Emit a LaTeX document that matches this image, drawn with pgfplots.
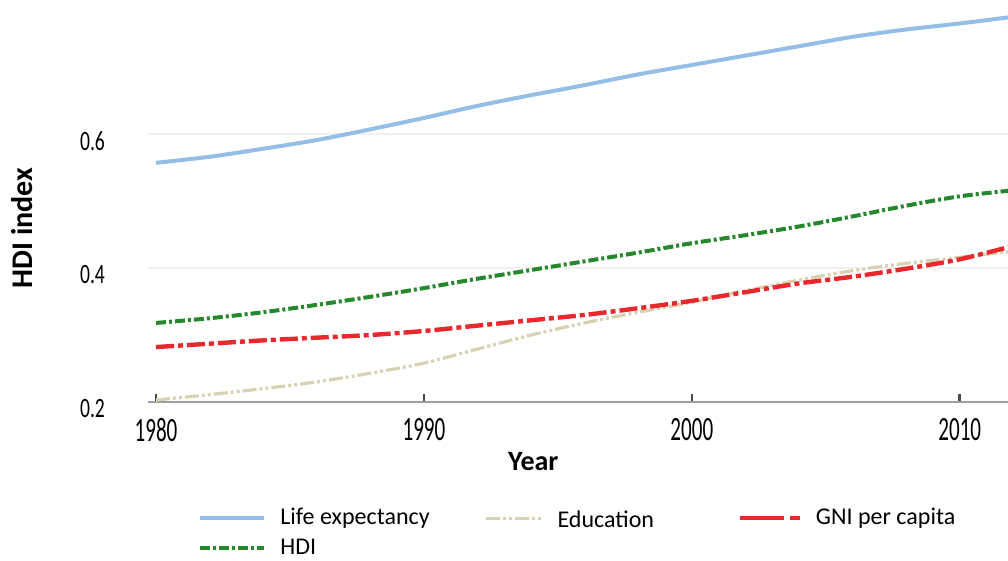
\documentclass[border=0pt]{standalone}
\usepackage{pgfplots}
\pgfplotsset{compat=1.18}
\usepackage{fontspec}
\setmainfont{Carlito}

\definecolor{lifeblue}{RGB}{148,190,230}
\definecolor{hdigreen}{RGB}{38,135,45}
\definecolor{gnired}{RGB}{232,40,44}
\definecolor{edubeige}{RGB}{216,210,178}

\pgfplotsset{
  longline/.style={legend image code/.code={\draw[##1] (0pt,0pt) -- (32pt,0pt);}},
  shortline/.style={legend image code/.code={\draw[##1] (0pt,0pt) -- (28pt,0pt);}},
  gniline/.style={legend image code/.code={\draw[##1, solid] (0pt,0pt) -- (22pt,0pt); \draw[##1, solid] (25pt,0pt) -- (30pt,0pt);}},
}

\begin{document}
\begin{tikzpicture}
\begin{axis}[
    scale only axis,
    width=430pt, height=201pt,
    xmin=1979.7, xmax=2011.8,
    ymin=0.2, ymax=0.8,
    xtick={1980,1990,2000,2010},
    ytick={0.2,0.4,0.6},
    axis lines=left,
    axis line style={-},
    y axis line style={draw=none},
    x axis line style={draw=gray!75, line width=1.3pt},
    ymajorgrids,
    grid style={gray!12, line width=0.8pt},
    ytick style={draw=none},
    xtick style={draw=black!70, line width=1.3pt},
    tick align=inside,
    major tick length=4pt,
    /pgf/number format/1000 sep={},
    /pgf/number format/assume math mode=true,
    xticklabel={\scalebox{0.62}[1]{\pgfmathprintnumber{\tick}}},
    yticklabel={\scalebox{0.7}[1]{\pgfmathprintnumber[fixed,precision=1]{\tick}}},
    xticklabel style={font=\fontsize{17}{19}\selectfont, yshift=-4.8pt},
    yticklabel style={font=\fontsize{14}{16}\selectfont, xshift=-18pt, yshift=-3.5pt},
    xlabel={\textbf{Year}},
    ylabel={\textbf{HDI index}},
    xlabel style={font=\fontsize{14}{16}\selectfont, at={(axis description cs:0.448,-0.149)}, anchor=center},
    ylabel style={font=\fontsize{15}{17}\selectfont, at={(axis description cs:-0.1465,0.433)}, anchor=center},
    legend columns=3,
    legend cell align=left,
    legend style={draw=none, fill=none, font=\fontsize{12}{14}\selectfont,
        at={(0,0)}, anchor=north west, xshift=22pt, yshift=-49pt, row sep=1.5pt,
        /tikz/every odd column/.append style={column sep=5pt}},
]

\addplot[lifeblue, line width=2pt, smooth, longline]
  table {
    1980 0.557
    1982 0.566
    1984 0.578
    1986 0.591
    1988 0.607
    1990 0.624
    1992 0.642
    1994 0.658
    1996 0.673
    1998 0.689
    2000 0.703
    2002 0.717
    2004 0.731
    2006 0.745
    2008 0.756
    2010 0.765
    2012 0.775
  };
\addlegendentry{\makebox[100pt][l]{Life expectancy}}

\addplot[edubeige, line width=1.6pt, smooth, dash pattern=on 7pt off 1.5pt on 1.5pt off 1.5pt on 1.5pt off 1.5pt, shortline]
  table {
    1980 0.203
    1982 0.211
    1984 0.220
    1986 0.230
    1988 0.243
    1990 0.258
    1992 0.279
    1994 0.300
    1996 0.318
    1998 0.334
    2000 0.349
    2002 0.366
    2004 0.382
    2006 0.396
    2008 0.407
    2010 0.416
    2012 0.425
  };
\addlegendentry{\makebox[88pt][l]{\raisebox{-2.5pt}{Education}}}

\addplot[gnired, line width=2.2pt, smooth, dash pattern=on 9pt off 2pt on 2.5pt off 2pt, gniline]
  table {
    1980 0.282
    1982 0.287
    1984 0.292
    1986 0.296
    1988 0.300
    1990 0.306
    1992 0.314
    1994 0.322
    1996 0.330
    1998 0.340
    2000 0.351
    2002 0.364
    2004 0.377
    2006 0.387
    2008 0.399
    2010 0.413
    2012 0.433
  };
\addlegendentry{GNI per capita}

\addplot[hdigreen, line width=2pt, smooth, dash pattern=on 5pt off 1.5pt on 1.5pt off 1.5pt, longline]
  table {
    1980 0.318
    1982 0.325
    1984 0.334
    1986 0.345
    1988 0.357
    1990 0.370
    1992 0.384
    1994 0.397
    1996 0.410
    1998 0.423
    2000 0.437
    2002 0.449
    2004 0.462
    2006 0.477
    2008 0.493
    2010 0.507
    2012 0.516
  };
\addlegendentry{\makebox[100pt][l]{HDI}}

\end{axis}
\pgfresetboundingbox
\path[use as bounding box] (-74pt,-79.5pt) rectangle (430pt,201pt);
\end{tikzpicture}
\end{document}
